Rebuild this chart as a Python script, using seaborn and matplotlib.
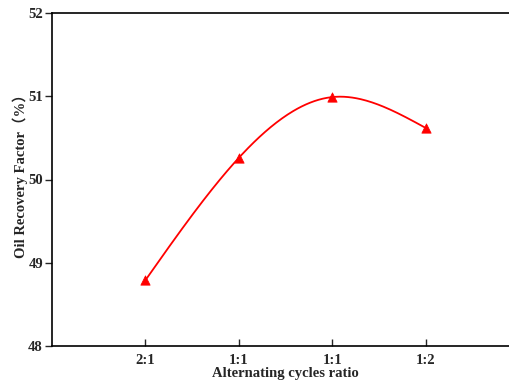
import matplotlib
matplotlib.use("Agg")
import matplotlib.pyplot as plt
import seaborn as sns
import pandas as pd
import numpy as np

ratios = ["2:1", "1:1", "1:1", "1:2"]
recovery = [48.79, 50.26, 50.99, 50.62]

df = pd.DataFrame({"pos": [1, 2, 3, 4], "ratio": ratios, "recovery": recovery})


def natural_spline(x, y, n=200):
    # natural cubic spline for the smooth connecting line
    x = np.asarray(x, float)
    y = np.asarray(y, float)
    k = len(x)
    h = np.diff(x)
    A = np.zeros((k, k))
    b = np.zeros(k)
    A[0, 0] = A[-1, -1] = 1
    for i in range(1, k - 1):
        A[i, i - 1] = h[i - 1]
        A[i, i] = 2 * (h[i - 1] + h[i])
        A[i, i + 1] = h[i]
        b[i] = 3 * ((y[i + 1] - y[i]) / h[i] - (y[i] - y[i - 1]) / h[i - 1])
    c = np.linalg.solve(A, b)
    xs = np.linspace(x[0], x[-1], n)
    ys = np.empty_like(xs)
    for j, xv in enumerate(xs):
        i = min(np.searchsorted(x, xv, side="right") - 1, k - 2)
        d = xv - x[i]
        bi = (y[i + 1] - y[i]) / h[i] - h[i] * (2 * c[i] + c[i + 1]) / 3
        di = (c[i + 1] - c[i]) / (3 * h[i])
        ys[j] = y[i] + bi * d + c[i] * d ** 2 + di * d ** 3
    return xs, ys


sns.set_style("ticks")
plt.rcParams["font.family"] = ["Liberation Serif", "Noto Sans CJK SC"]
plt.rcParams["font.weight"] = "bold"

fig = plt.figure(figsize=(5.1, 3.83), dpi=100)
ax = fig.add_axes([52 / 510, 37 / 383, 467 / 510, 333 / 383])

xs, ys = natural_spline(df["pos"], df["recovery"])
sns.lineplot(x=xs, y=ys, ax=ax, color="#ff0000", linewidth=1.3, sort=False)
sns.scatterplot(data=df, x="pos", y="recovery", ax=ax, marker="^", s=45,
                color="#ff0000", edgecolor="#ff0000", zorder=3)

ax.set_xlim(0, 5)
ax.set_ylim(48, 52)
ax.set_xticks(df["pos"])
ax.set_xticklabels(ratios)
ax.set_yticks([48, 49, 50, 51, 52])
ax.tick_params(axis="x", direction="in", length=5, width=1, labelsize=10.5, pad=6)
ax.tick_params(axis="y", direction="out", length=5, width=1, labelsize=10.5, pad=1.5)
for lbl in ax.get_xticklabels() + ax.get_yticklabels():
    lbl.set_fontweight("bold")
for sp in ax.spines.values():
    sp.set_linewidth(1.2)
    sp.set_color("black")

ax.set_xlabel("Alternating cycles ratio", fontsize=10.5, fontweight="bold", labelpad=0)
ax.set_ylabel("Oil Recovery Factor（%）", fontsize=10.5, fontweight="bold")
ax.yaxis.set_label_coords(-0.052, 0.52)

fig.savefig("out.png", dpi=100)
